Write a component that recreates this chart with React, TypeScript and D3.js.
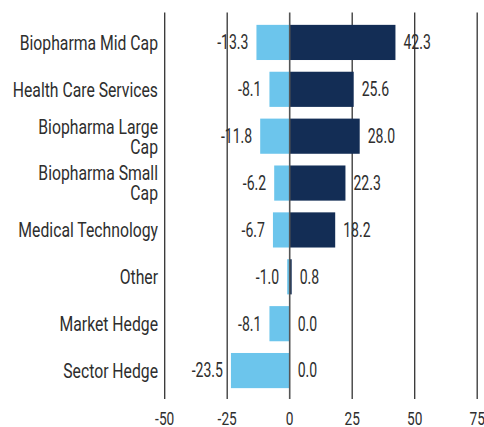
import React from "react";
import * as d3 from "d3";

const categories: string[][] = [
  ["Biopharma Mid Cap"],
  ["Health Care Services"],
  ["Biopharma Large", "Cap"],
  ["Biopharma Small", "Cap"],
  ["Medical Technology"],
  ["Other"],
  ["Market Hedge"],
  ["Sector Hedge"],
];
const shortValues = [-13.3, -8.1, -11.8, -6.2, -6.7, -1.0, -8.1, -23.5];
const longValues = [42.3, 25.6, 28.0, 22.3, 18.2, 0.8, 0.0, 0.0];
const ticks = [-50, -25, 0, 25, 50, 75];

const W = 484;
const H = 427;
const LIGHT = "#6cc5ec";
const NAVY = "#132d55";
const TEXT = "#2e2e2e";
const FONT = "Roboto, 'Noto Sans', sans-serif";

function T(props: {
  x: number;
  y: number;
  anchor: "start" | "end" | "middle";
  size: number;
  sx: number;
  dy?: string;
  children: React.ReactNode;
}) {
  return (
    <g transform={`translate(${props.x},${props.y}) scale(${props.sx},1)`}>
      <text
        x={0}
        y={0}
        dy={props.dy}
        textAnchor={props.anchor}
        fontSize={props.size}
        fill={TEXT}
      >
        {props.children}
      </text>
    </g>
  );
}

export default function App() {
  const x = d3.scaleLinear().domain([-50, 75]).range([164.7, 477.2]);
  const idx = categories.map((_, i) => String(i));
  const y = d3
    .scaleBand<string>()
    .domain(idx)
    .range([19, 394])
    .paddingInner(0.25)
    .paddingOuter(0.125);
  const bw = y.bandwidth();
  const gridTop = 12.5;
  const gridBottom = 399;

  return (
    <svg
      width={W}
      height={H}
      style={{ position: "absolute", left: 0, top: 0, fontFamily: FONT }}
    >
      <rect width={W} height={H} fill="#fff" />
      {ticks
        .filter((t) => t !== 0)
        .map((t) => (
          <line
            key={t}
            x1={x(t)}
            x2={x(t)}
            y1={gridTop}
            y2={gridBottom}
            stroke="#333"
            strokeWidth={1.3}
          />
        ))}
      {idx.map((k, i) => {
        const yy = y(k)!;
        const s = shortValues[i];
        const l = longValues[i];
        return (
          <g key={k}>
            <rect
              x={x(Math.min(0, s))}
              y={yy}
              width={Math.abs(x(s) - x(0))}
              height={bw}
              fill={LIGHT}
            />
            <rect
              x={x(0)}
              y={yy}
              width={Math.abs(x(l) - x(0))}
              height={bw}
              fill={NAVY}
            />
          </g>
        );
      })}
      <line
        x1={x(0)}
        x2={x(0)}
        y1={gridTop}
        y2={gridBottom}
        stroke="#555"
        strokeWidth={1.6}
      />
      {idx.map((k, i) => {
        const cy = y(k)! + bw / 2;
        const s = shortValues[i];
        const l = longValues[i];
        const lines = categories[i];
        return (
          <g key={"t" + k}>
            {lines.map((ln, j) => (
              <T
                key={j}
                x={158}
                y={cy + (j - (lines.length - 1) / 2) * 20}
                dy="0.35em"
                anchor="end"
                size={21}
                sx={0.75}
              >
                {ln}
              </T>
            ))}
            <T
              x={x(Math.min(0, s)) - 8}
              y={cy}
              dy="0.35em"
              anchor="end"
              size={19.5}
              sx={0.72}
            >
              {s.toFixed(1)}
            </T>
            <T
              x={x(Math.max(0, l)) + 8}
              y={cy}
              dy="0.35em"
              anchor="start"
              size={19.5}
              sx={0.72}
            >
              {l.toFixed(1)}
            </T>
          </g>
        );
      })}
      {ticks.map((t) => (
        <T key={"k" + t} x={x(t)} y={424.5} anchor="middle" size={19} sx={0.72}>
          {t}
        </T>
      ))}
    </svg>
  );
}
